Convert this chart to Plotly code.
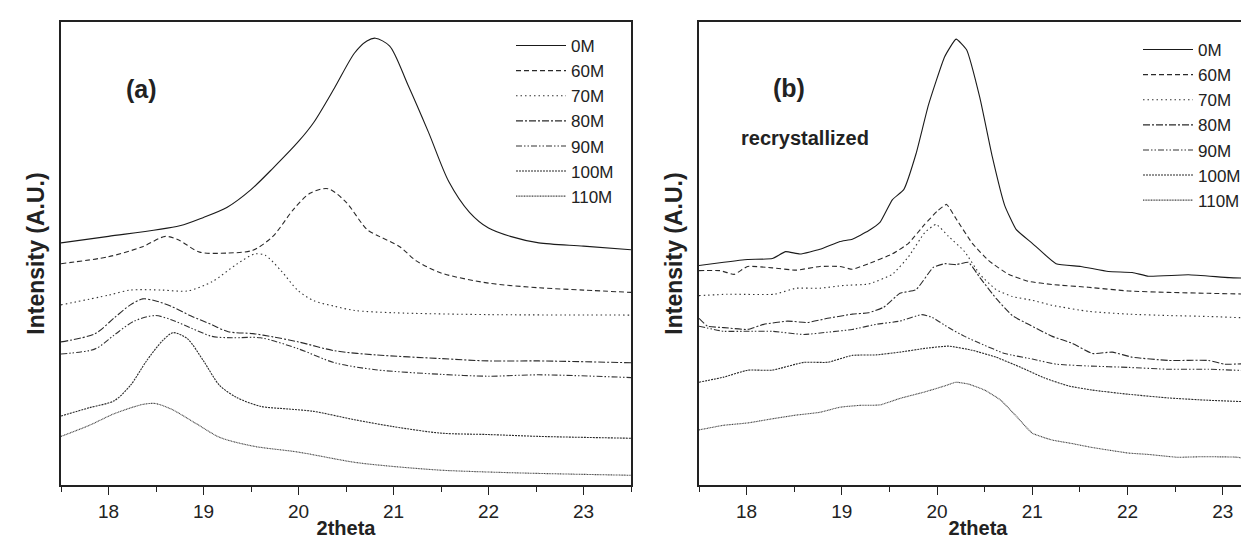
import plotly.graph_objects as go

# ---------------- data: panel (a) ----------------
a_0M_x  = [17.5, 18.0, 18.75, 19.0, 19.25, 19.5, 19.73, 20.0, 20.16, 20.38, 20.59, 20.72, 20.81, 20.96, 21.15, 21.37, 21.58, 21.8, 22.0, 22.23, 22.53, 23.0, 23.5]
a_0M_y  = [52.3, 53.7, 56.0, 57.8, 60.0, 63.8, 68.4, 74.2, 78.3, 85.8, 93.3, 95.9, 96.5, 94.8, 86.5, 76.1, 65.6, 58.9, 55.5, 53.7, 52.3, 51.6, 50.8]

a_60M_x = [17.5, 18.0, 18.35, 18.6, 18.74, 18.96, 19.26, 19.52, 19.73, 19.95, 20.12, 20.31, 20.5, 20.72, 20.85, 21.07, 21.24, 21.5, 22.0, 22.53, 23.0, 23.5]
a_60M_y = [47.8, 49.3, 51.4, 53.7, 52.9, 50.3, 50.1, 50.7, 53.7, 59.6, 63.0, 64.0, 61.1, 55.2, 53.7, 51.4, 48.4, 45.8, 43.6, 42.6, 42.1, 41.6]

a_70M_x = [17.5, 18.0, 18.23, 18.57, 18.83, 19.09, 19.35, 19.54, 19.65, 19.82, 19.99, 20.16, 20.38, 20.59, 21.0, 22.0, 23.5]
a_70M_y = [38.9, 41.0, 42.1, 42.1, 41.9, 43.9, 47.7, 49.9, 49.6, 46.2, 42.1, 39.8, 38.6, 37.7, 37.2, 36.8, 36.7]

a_80M_x = [17.5, 17.86, 18.06, 18.23, 18.36, 18.49, 18.66, 18.87, 19.09, 19.26, 19.52, 19.73, 20.0, 20.38, 20.81, 21.5, 22.0, 22.53, 23.5]
a_80M_y = [30.9, 32.7, 36.1, 38.9, 40.2, 39.8, 38.6, 36.5, 34.6, 33.1, 32.7, 32.0, 30.9, 29.0, 28.1, 27.3, 26.8, 26.8, 26.4]

a_90M_x = [17.5, 17.86, 18.06, 18.27, 18.49, 18.66, 18.87, 19.09, 19.3, 19.6, 20.0, 20.38, 20.81, 21.5, 22.0, 22.53, 23.5]
a_90M_y = [28.3, 29.4, 32.4, 35.4, 36.6, 35.7, 33.9, 32.1, 31.8, 31.8, 29.4, 26.4, 24.9, 23.9, 23.5, 23.8, 23.2]

a_100M_x = [17.5, 17.8, 18.06, 18.23, 18.4, 18.57, 18.68, 18.83, 19.0, 19.17, 19.35, 19.6, 19.9, 20.16, 20.59, 21.0, 21.5, 22.0, 22.53, 23.5]
a_100M_y = [14.9, 16.7, 18.2, 21.5, 26.8, 31.2, 32.9, 31.6, 26.8, 21.5, 18.9, 17.0, 16.4, 15.9, 14.1, 12.6, 11.2, 10.9, 10.5, 10.1]

a_110M_x = [17.5, 17.8, 18.06, 18.36, 18.49, 18.66, 18.92, 19.17, 19.52, 20.0, 20.59, 21.0, 21.5, 22.0, 22.53, 23.5]
a_110M_y = [10.5, 12.9, 15.4, 17.4, 17.6, 16.4, 13.3, 10.3, 8.4, 7.1, 4.9, 4.0, 3.2, 2.8, 2.5, 2.1]

# ---------------- data: panel (b) ----------------
b_0M_x  = [17.5, 17.76, 18.01, 18.27, 18.41, 18.56, 18.77, 18.98, 19.11, 19.28, 19.4, 19.53, 19.65, 19.78, 19.91, 20.08, 20.2, 20.31, 20.45, 20.58, 20.71, 20.83, 21.0, 21.25, 21.51, 21.8, 22.05, 22.22, 22.64, 23.07, 23.36]
b_0M_y  = [47.4, 48.1, 48.7, 48.9, 50.4, 49.9, 50.9, 52.6, 53.1, 54.9, 56.7, 61.6, 63.8, 71.6, 82.1, 92.5, 96.3, 94.0, 83.6, 70.9, 60.4, 55.2, 52.2, 47.8, 47.2, 46.1, 45.9, 45.1, 45.4, 44.8, 44.6]

b_60M_x = [17.5, 17.72, 17.87, 18.01, 18.27, 18.52, 18.77, 18.98, 19.11, 19.28, 19.53, 19.7, 19.87, 20.01, 20.1, 20.2, 20.37, 20.54, 20.75, 20.96, 21.21, 21.59, 22.01, 22.43, 22.85, 23.36]
b_60M_y = [46.3, 46.3, 45.5, 47.2, 46.9, 46.4, 47.2, 47.2, 46.6, 47.8, 49.9, 52.2, 56.3, 59.3, 60.6, 57.5, 52.2, 48.5, 45.5, 44.0, 43.3, 42.7, 41.9, 41.6, 41.4, 41.2]

b_70M_x = [17.5, 17.8, 18.29, 18.52, 18.77, 19.02, 19.28, 19.53, 19.7, 19.87, 19.99, 20.12, 20.29, 20.45, 20.62, 20.79, 21.0, 21.21, 21.59, 22.01, 22.43, 22.85, 23.36]
b_70M_y = [40.9, 41.2, 41.2, 42.5, 42.5, 43.1, 43.4, 45.5, 49.3, 54.5, 56.3, 53.7, 50.4, 45.5, 42.2, 40.7, 39.9, 38.8, 37.5, 36.9, 36.6, 36.4, 36.0]

b_80M_x = [17.5, 17.59, 17.76, 18.01, 18.18, 18.43, 18.64, 18.85, 19.11, 19.28, 19.44, 19.61, 19.78, 19.96, 20.08, 20.2, 20.33, 20.45, 20.62, 20.79, 20.96, 21.21, 21.42, 21.63, 21.84, 22.05, 22.43, 22.85, 23.02, 23.36]
b_80M_y = [36.0, 34.3, 34.0, 33.6, 34.7, 35.4, 35.1, 36.0, 36.9, 37.2, 38.4, 41.4, 42.2, 47.0, 47.8, 47.6, 48.1, 44.8, 40.3, 36.6, 34.7, 32.1, 30.6, 28.4, 28.7, 27.6, 26.9, 26.9, 26.1, 26.3]

b_90M_x = [17.5, 17.76, 18.01, 18.27, 18.6, 18.85, 19.11, 19.36, 19.61, 19.84, 19.95, 20.12, 20.29, 20.45, 20.71, 21.0, 21.25, 21.59, 22.01, 22.43, 22.85, 23.36]
b_90M_y = [34.3, 33.2, 33.2, 33.2, 32.5, 33.0, 33.6, 34.7, 35.4, 36.8, 36.2, 34.0, 32.1, 30.6, 28.4, 27.2, 26.1, 25.7, 25.4, 25.0, 25.0, 24.6]

b_100M_x = [17.5, 17.76, 18.01, 18.27, 18.6, 18.85, 19.11, 19.36, 19.61, 19.87, 20.12, 20.37, 20.62, 20.88, 21.13, 21.38, 21.63, 22.01, 22.43, 22.85, 23.36]
b_100M_y = [22.2, 23.3, 24.8, 24.8, 26.5, 26.5, 28.0, 28.1, 28.7, 29.5, 30.0, 29.1, 27.6, 25.4, 23.1, 21.4, 20.5, 19.6, 18.8, 18.3, 17.9]

b_110M_x = [17.5, 17.76, 18.01, 18.27, 18.52, 18.77, 18.98, 19.19, 19.4, 19.61, 19.87, 20.08, 20.2, 20.33, 20.5, 20.67, 20.83, 21.0, 21.21, 21.38, 21.63, 22.01, 22.22, 22.52, 22.77, 23.15, 23.36]
b_110M_y = [11.9, 12.9, 13.4, 14.3, 15.1, 15.7, 16.8, 17.2, 17.3, 18.7, 20.1, 21.4, 22.2, 21.8, 20.5, 18.3, 14.9, 11.2, 9.7, 9.1, 8.1, 6.9, 6.6, 6.0, 6.1, 6.0, 5.2]

labels = ["0M", "60M", "70M", "80M", "90M", "100M", "110M"]
tick_vals = [18, 19, 20, 21, 22, 23]
tick_text = ["18", "19", "20", "21", "22", "23"]

panel_a = [(a_0M_x, a_0M_y), (a_60M_x, a_60M_y), (a_70M_x, a_70M_y), (a_80M_x, a_80M_y),
           (a_90M_x, a_90M_y), (a_100M_x, a_100M_y), (a_110M_x, a_110M_y)]
panel_b = [(b_0M_x, b_0M_y), (b_60M_x, b_60M_y), (b_70M_x, b_70M_y), (b_80M_x, b_80M_y),
           (b_90M_x, b_90M_y), (b_100M_x, b_100M_y), (b_110M_x, b_110M_y)]

dashes = ["solid", "5px,3px", "1.5px,3px", "7px,2px,2px,2px", "6px,2px,1.5px,2px,1.5px,2px", "2px,1px", "1px,0.6px"]
colors = ["#1a1a1a", "#2a2a2a", "#333333", "#2a2a2a", "#333333", "#2a2a2a", "#444444"]

FONT = "Liberation Sans, Arial, Helvetica, sans-serif"
W, H = 1249, 543
ML, MR, MT, MB = 53, 0, 14, 66
PW = W - ML - MR
PH = H - MT - MB

fig = go.Figure()
for i, (xs, ys) in enumerate(panel_a):
    fig.add_trace(go.Scatter(x=xs, y=ys, mode="lines", name=labels[i],
                             line=dict(color=colors[i], width=1.1, dash=dashes[i], shape="spline", smoothing=0.8),
                             xaxis="x", yaxis="y", legend="legend", showlegend=True))
for i, (xs, ys) in enumerate(panel_b):
    fig.add_trace(go.Scatter(x=xs, y=ys, mode="lines", name=labels[i],
                             line=dict(color=colors[i], width=1.1, dash=dashes[i], shape="spline", smoothing=0.4),
                             xaxis="x2", yaxis="y2", legend="legend2", showlegend=True))

da = [0, (623 - ML) / PW]
db = [(691 - ML) / PW, 1.0]

axis_common = dict(showgrid=False, zeroline=False, linecolor="#222", linewidth=1.6, automargin=False,
                   ticks="outside", ticklen=8, tickwidth=1.4, tickcolor="#222",
                   tickvals=tick_vals, ticktext=tick_text,
                   tickfont=dict(family=FONT, size=19, color="#222"),
                   minor=dict(dtick=0.5, tick0=17.5, ticks="outside", ticklen=5, tickwidth=1.2, tickcolor="#222"),
                   title=dict(text="<b>2theta</b>", font=dict(family=FONT, size=20, color="#222"), standoff=0))

yaxis_common = dict(domain=[0, 1], range=[0, 100], showticklabels=False, ticks="", automargin=False,
                    showgrid=False, zeroline=False, linecolor="#222", linewidth=1.6,
                    title=dict(text="<b>Intensity (A.U.)</b>", font=dict(family=FONT, size=23, color="#222"), standoff=8))

fig.update_layout(
    width=W, height=H, margin=dict(l=ML, r=MR, t=MT, b=MB, autoexpand=False),
    paper_bgcolor="white", plot_bgcolor="white",
    font=dict(family=FONT, color="#222"),
    xaxis=dict(domain=da, range=[17.5, 23.5], anchor="y", mirror=True, **axis_common),
    xaxis2=dict(domain=db, range=[17.5, 23.36], anchor="y2", mirror=True, **axis_common),
    yaxis=dict(anchor="x", mirror=True, **yaxis_common),
    yaxis2=dict(anchor="x2", mirror=False, **yaxis_common),
    legend=dict(x=(503 - ML) / PW, y=1 - (20 - MT) / PH, xanchor="left", yanchor="top",
                bgcolor="rgba(0,0,0,0)", borderwidth=0, itemwidth=50,
                font=dict(family=FONT, size=17, color="#222"), tracegroupgap=0),
    legend2=dict(x=(1130 - ML) / PW, y=1 - (24 - MT) / PH, xanchor="left", yanchor="top",
                 bgcolor="rgba(0,0,0,0)", borderwidth=0, itemwidth=50,
                 font=dict(family=FONT, size=17, color="#222"), tracegroupgap=0),
    annotations=[
        dict(text="<b>(a)</b>", x=18.35, y=85.5, xref="x", yref="y", showarrow=False,
             font=dict(family=FONT, size=25, color="#222")),
        dict(text="<b>(b)</b>", x=18.44, y=85.7, xref="x2", yref="y2", showarrow=False,
             font=dict(family=FONT, size=25, color="#222")),
        dict(text="<b>recrystallized</b>", x=18.61, y=75, xref="x2", yref="y2", showarrow=False,
             font=dict(family=FONT, size=20, color="#222")),
    ],
)

fig.write_html("out.html")
